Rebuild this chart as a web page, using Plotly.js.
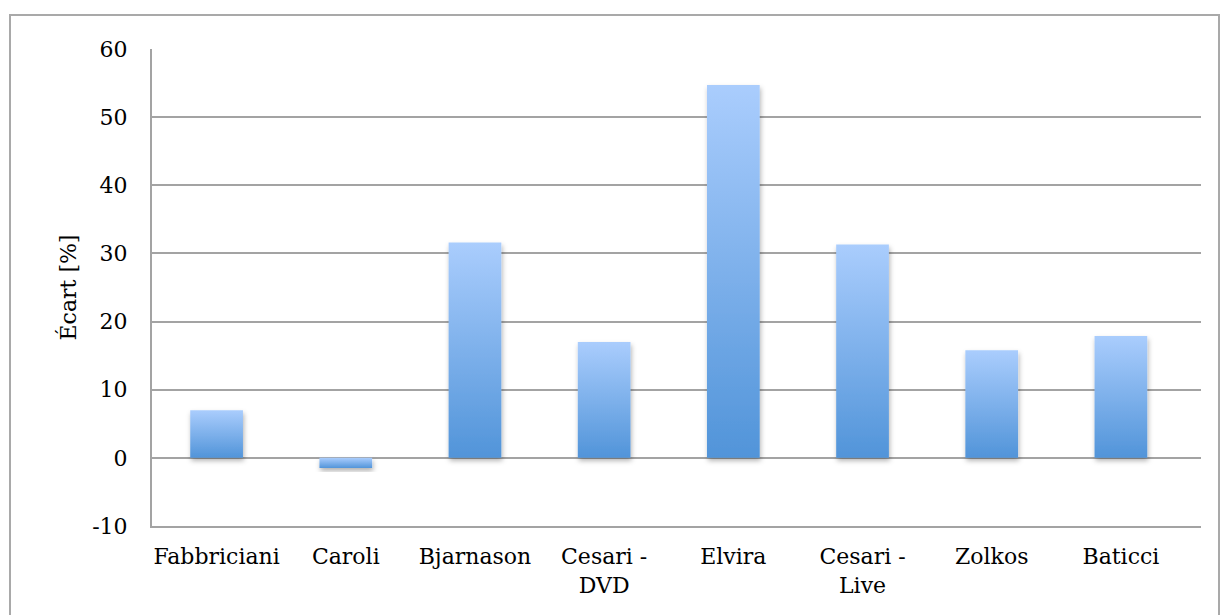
<!DOCTYPE html>
<html><head><meta charset="utf-8">
<script src="https://cdn.plot.ly/plotly-3.0.1.min.js"></script>
<style>
html,body{margin:0;padding:0;background:#fff;width:1228px;height:615px;overflow:hidden;}
#chart{position:absolute;left:0;top:0;width:1228px;height:615px;}
#frame{position:absolute;left:9px;top:14px;width:1207px;height:700px;border:2px solid #a9a9a9;pointer-events:none;}
</style></head>
<body>
<div id="chart"></div>
<div id="frame"></div>
<script>
// ---- data ----
const categories = ['Fabbriciani', 'Caroli', 'Bjarnason', 'Cesari - DVD', 'Elvira', 'Cesari - Live', 'Zolkos', 'Baticci'];
const categoryLabels = ['Fabbriciani', 'Caroli', 'Bjarnason', 'Cesari -<br>DVD', 'Elvira', 'Cesari -<br>Live', 'Zolkos', 'Baticci'];
const ecartValues = [7.0, -1.5, 31.6, 17.0, 54.7, 31.3, 15.8, 17.9];
const yTickValues = [-10, 0, 10, 20, 30, 40, 50, 60];
const yTickLabels = ['-10', '0', '10', '20', '30', '40', '50', '60'];
const yTitle = 'Écart [%]';

const font = {family: '"DejaVu Serif", serif', size: 22, color: '#000'};

const trace = {
  type: 'bar',
  x: categories,
  y: ecartValues,
  width: 0.408,
  marker: {color: '#7db1ef', line: {width: 0}},
  hoverinfo: 'x+y'
};

const layout = {
  width: 1228, height: 615,
  margin: {l: 152, r: 27, t: 49, b: 89},
  paper_bgcolor: 'rgba(0,0,0,0)',
  plot_bgcolor: 'rgba(0,0,0,0)',
  showlegend: false,
  font: font,
  xaxis: {
    type: 'category',
    range: [-0.5, 7.62],
    tickvals: categories,
    ticktext: categoryLabels,
    showgrid: false, zeroline: false,
    showline: true, linecolor: '#a3a3a3', linewidth: 2,
    ticks: '', tickfont: font,
    ticklabelstandoff: 10
  },
  yaxis: {
    range: [-10, 60],
    tickvals: yTickValues,
    ticktext: yTickLabels,
    showgrid: true, gridcolor: '#a3a3a3', gridwidth: 2,
    zeroline: false,
    showline: true, linecolor: '#a3a3a3', linewidth: 2,
    ticks: '', tickfont: font,
    ticklabelstandoff: 18,
    title: {text: yTitle, font: font, standoff: 9}
  }
};

Plotly.newPlot('chart', [trace], layout, {staticPlot: true, displayModeBar: false}).then(function (gd) {
  const svg = gd.querySelector('svg.main-svg');
  const ns = 'http://www.w3.org/2000/svg';
  let defs = svg.querySelector('defs');
  if (!defs) { defs = document.createElementNS(ns, 'defs'); svg.insertBefore(defs, svg.firstChild); }
  const grad = document.createElementNS(ns, 'linearGradient');
  grad.setAttribute('id', 'barGrad');
  grad.setAttribute('x1', '0'); grad.setAttribute('y1', '0');
  grad.setAttribute('x2', '0'); grad.setAttribute('y2', '1');
  [['0%', '#aacdfd'], ['100%', '#5194d9']].forEach(function (s) {
    const st = document.createElementNS(ns, 'stop');
    st.setAttribute('offset', s[0]); st.setAttribute('stop-color', s[1]);
    grad.appendChild(st);
  });
  defs.appendChild(grad);
  const filt = document.createElementNS(ns, 'filter');
  filt.setAttribute('id', 'barShadow');
  filt.setAttribute('x', '-30%'); filt.setAttribute('y', '-30%');
  filt.setAttribute('width', '160%'); filt.setAttribute('height', '160%');
  const ds = document.createElementNS(ns, 'feDropShadow');
  ds.setAttribute('dx', '1'); ds.setAttribute('dy', '3');
  ds.setAttribute('stdDeviation', '2.5');
  ds.setAttribute('flood-color', '#000'); ds.setAttribute('flood-opacity', '0.3');
  filt.appendChild(ds);
  defs.appendChild(filt);
  gd.querySelectorAll('.barlayer .point path').forEach(function (p) {
    p.style.fill = 'url(#barGrad)';
    p.setAttribute('filter', 'url(#barShadow)');
  });
});
</script>
</body></html>
